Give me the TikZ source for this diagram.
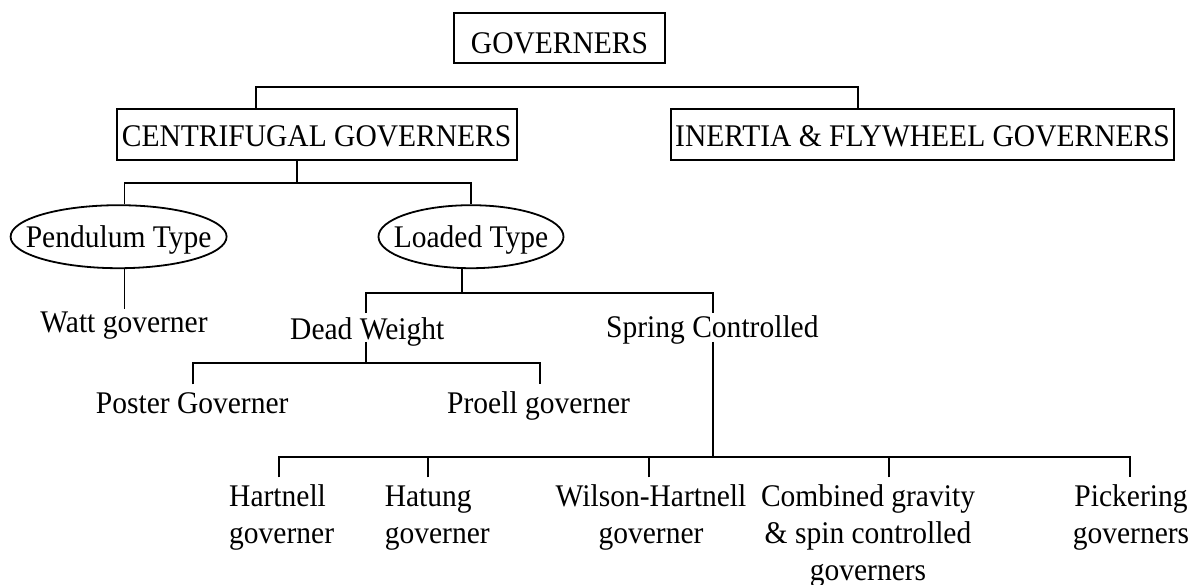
\documentclass[tikz,border=0pt]{standalone}
\usepackage{fontspec}
\setmainfont{Liberation Serif}[FakeStretch=0.937]
\usetikzlibrary{shapes.geometric}
\begin{document}
\begin{tikzpicture}[x=1pt,y=-1pt,
  every node/.style={font=\fontsize{31.5}{36.6}\selectfont, inner sep=0pt},
  box/.style={draw, line width=2pt, rectangle, text depth=0pt},
  oval/.style={draw, line width=1.8pt, ellipse, text height=20.9pt, text depth=0pt},
  lbl/.style={anchor=base west},
  multi/.style={inner xsep=0pt, inner ysep=3.8pt},
  conn/.style={line width=1.8pt}
]
\useasboundingbox (0,0) rectangle (1197,584);

% boxes
\node[box, minimum width=211pt, minimum height=50pt, text height=29.5pt] (gov) at (559.5,38.3) {GOVERNERS};
\node[box, minimum width=400pt, minimum height=50.7pt, text height=24.5pt] (cent) at (316.6,134.7) {CENTRIFUGAL GOVERNERS};
\node[box, minimum width=502.7pt, minimum height=50.7pt, text height=24.5pt] (inert) at (922.5,134.7) {INERTIA \& FLYWHEEL GOVERNERS};

% ellipses
\node[oval, minimum width=216pt, minimum height=63pt] (pend) at (118.6,236.7) {\makebox[0pt]{Pendulum Type}};
\node[oval, minimum width=185pt, minimum height=63pt] (load) at (471,236.7) {\makebox[0pt]{Loaded Type}};

% text nodes
\node[lbl, text height=23.4pt, text depth=0pt] (watt) at (40.2,332.7) {Watt governer};
\node[lbl, text height=25.7pt, text depth=2.7pt] (dw) at (290,339) {Dead Weight};
\node[lbl, text height=24pt, text depth=4.4pt] (sc) at (606,337.3) {Spring Controlled};
\node[lbl, text height=28.8pt, text depth=0pt] (poster) at (95.7,413.3) {Poster Governer};
\node[lbl, text height=28.8pt, text depth=0pt] (proell) at (447,413.3) {Proell governer};

\node[multi, anchor=north west, align=left] (hart) at (229,477.3) {\strut Hartnell\\governer};
\node[multi, anchor=north west, align=left] (hat) at (384.6,477.3) {\strut Hatung\\governer};
\node[multi, anchor=north, align=center] (wil) at (651,477.3) {\strut Wilson-Hartnell\\governer};
\node[multi, anchor=north, align=center] (comb) at (868,477.3) {\strut Combined gravity\\\& spin controlled\\governers};
\node[multi, anchor=north, align=center] (pick) at (1131,477.3) {\strut Pickering\\governers};

% junction coordinates
\coordinate (j1) at (255.6,87.3);
\coordinate (j2) at (858.2,87.3);
\coordinate (c1) at (297,183);
\coordinate (cl) at (124.4,183);
\coordinate (cr) at (470.7,183);
\coordinate (l1) at (462.3,292.7);
\coordinate (dl) at (366,292.7);
\coordinate (dr) at (712.7,292.7);
\coordinate (d1) at (366,363.3);
\coordinate (pl) at (193.3,363.3);
\coordinate (pr) at (539.6,363.3);
\coordinate (s1) at (712.7,457.3);
\coordinate (b1) at (279,457.3);
\coordinate (b2) at (428.3,457.3);
\coordinate (b3) at (649,457.3);
\coordinate (b4) at (889.3,457.3);
\coordinate (b5) at (1130,457.3);

% connectors
\draw[conn] (cent.north -| j1) -- (j1) -- (j2) -- (inert.north -| j2);
\draw[conn] (cent.south -| c1) -- (c1);
\draw[conn] (pend.north -| cl) -- (cl) -- (cr) -- (load.north -| cr);
\draw[conn] (pend.south -| cl) -- (watt.north -| cl);
\draw[conn] (load.south -| l1) -- (l1);
\draw[conn] (dw.north -| dl) -- (dl) -- (dr) -- (sc.north -| dr);
\draw[conn] (dw.south -| d1) -- (d1);
\draw[conn] (poster.north -| pl) -- (pl) -- (pr) -- (proell.north -| pr);
\draw[conn] (sc.south -| s1) -- (s1);
\draw[conn] (hart.north -| b1) -- (b1) -- (b5) -- (pick.north -| b5);
\draw[conn] (hat.north -| b2) -- (b2);
\draw[conn] (wil.north -| b3) -- (b3);
\draw[conn] (comb.north -| b4) -- (b4);
\end{tikzpicture}
\end{document}
